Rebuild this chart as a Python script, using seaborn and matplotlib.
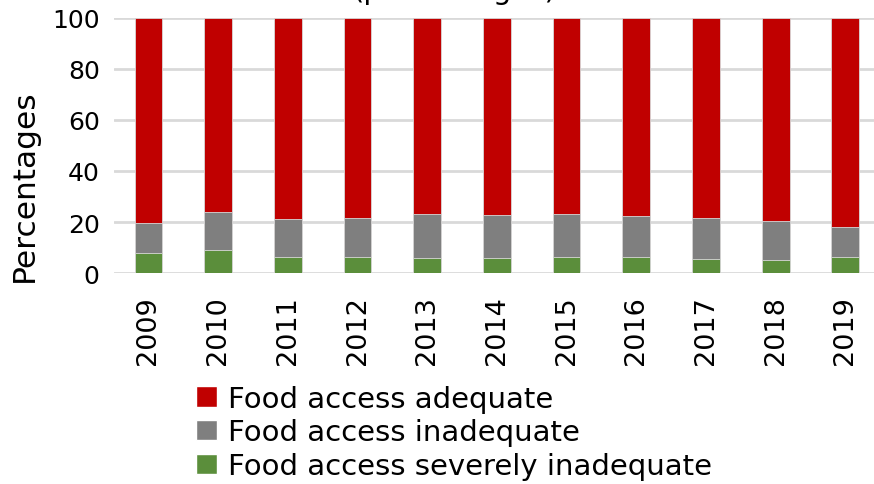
import matplotlib
matplotlib.use("Agg")
import numpy as np
import pandas as pd
import seaborn as sns
import matplotlib.pyplot as plt
from matplotlib.patches import Patch

# Data
years = ["2009", "2010", "2011", "2012", "2013", "2014",
         "2015", "2016", "2017", "2018", "2019"]
severe = [8.0, 8.9, 6.4, 6.4, 6.0, 6.0, 6.1, 6.1, 5.5, 5.2, 6.3]
inadequate = [11.6, 15.2, 14.7, 15.1, 17.1, 16.6, 16.9, 16.3, 16.0, 15.1, 11.6]
adequate = [100 - s - i for s, i in zip(severe, inadequate)]

labels = ["Food access adequate", "Food access inadequate",
          "Food access severely inadequate"]
colors = ["#c00000", "#7f7f7f", "#5b8e3b"]

df = pd.DataFrame({"year": years, "severe": severe,
                   "inadequate": inadequate, "adequate": adequate})
df["top_inad"] = df["severe"] + df["inadequate"]
df["top_adeq"] = df["top_inad"] + df["adequate"]

sns.set_style("white")
plt.rcParams["font.family"] = ["DejaVu Sans"]
plt.rcParams["text.color"] = "black"
plt.rcParams["xtick.color"] = "black"
plt.rcParams["ytick.color"] = "black"
plt.rcParams["axes.labelcolor"] = "black"

fig = plt.figure(figsize=(8.74, 4.85), dpi=100)
ax = fig.add_axes([0.130, 0.435, 0.877, 0.526])

# stacked bars: draw cumulative totals from tallest down
for col, c in zip(["top_adeq", "top_inad", "severe"], colors):
    sns.barplot(data=df, x="year", y=col, color=c, width=0.4,
                saturation=1, linewidth=0.6, edgecolor="#d8d8d8",
                ax=ax, zorder=3)

ax.set_ylim(0, 100)
ax.set_xlim(-0.5, len(years) - 0.5)
ax.set_yticks(range(0, 101, 20))
ax.yaxis.grid(True, color="#d9d9d9", linewidth=2, zorder=0)
ax.set_axisbelow(True)
for s in ax.spines.values():
    s.set_visible(False)
ax.tick_params(axis="y", labelsize=18, length=0, pad=10)
ax.tick_params(axis="x", labelsize=19.5, length=0, rotation=90, pad=16)
ax.set_xlabel("")
ax.set_ylabel("Percentages", fontsize=22.5)
ax.yaxis.set_label_coords(-0.098, 0.345)

fig.text(0.52, 1.018, "(percentages)", ha="center", va="center", fontsize=21)

handles = [Patch(facecolor=c, label=l) for c, l in zip(colors, labels)]
fig.legend(handles=handles, loc="upper left", bbox_to_anchor=(0.208, 0.235),
           frameon=False, fontsize=21, handlelength=0.7, handleheight=0.7,
           handletextpad=0.4, labelspacing=0.2, borderpad=0)

fig.savefig("out.png", dpi=100)
